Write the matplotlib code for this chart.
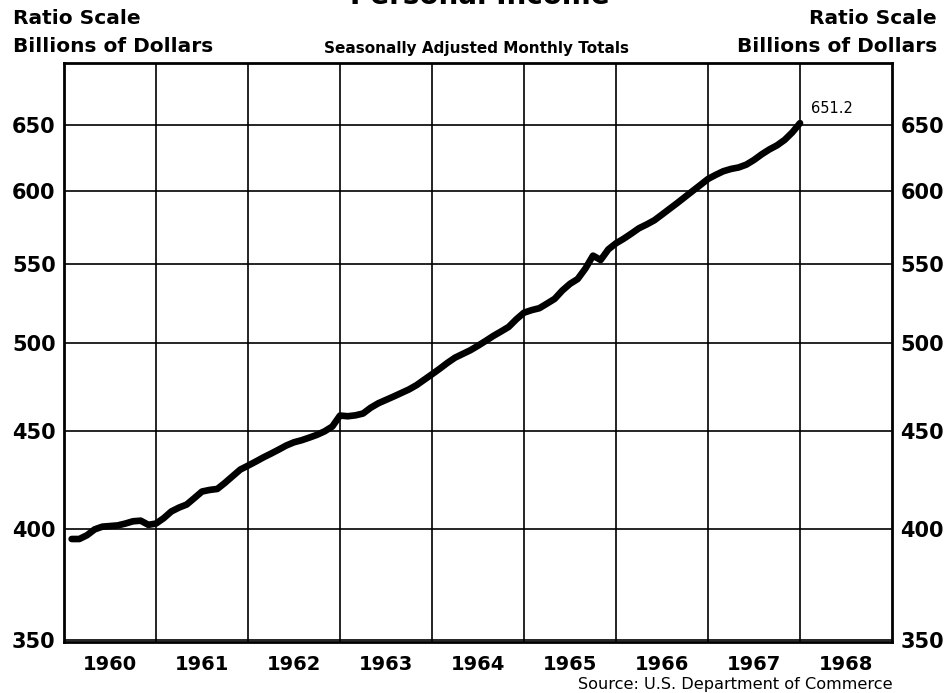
import numpy as np
import matplotlib
matplotlib.use("Agg")
import matplotlib.pyplot as plt
from matplotlib.ticker import FixedLocator, NullFormatter, FixedFormatter

# monthly personal income, Jan 1960 - Dec 1967 (billions, seasonally adjusted annual rate)
income = [
    395.0, 395.0, 396.8, 399.6, 400.9, 401.2, 401.5, 402.4, 403.5, 403.8, 401.8, 402.4,   # 1960
    405.0, 408.3, 410.2, 411.7, 414.9, 418.2, 419.0, 419.5, 422.6, 426.0, 429.4, 431.4,   # 1961
    433.5, 435.7, 437.7, 439.8, 442.0, 443.7, 444.8, 446.2, 447.7, 449.6, 452.2, 458.2,   # 1962
    457.8, 458.3, 459.3, 462.5, 465.0, 466.9, 468.8, 470.8, 472.8, 475.3, 478.4, 481.5,   # 1963
    484.7, 488.1, 491.2, 493.4, 495.6, 498.3, 501.2, 504.2, 506.9, 509.7, 514.4, 518.5,   # 1964
    520.1, 521.3, 524.2, 527.2, 532.5, 536.8, 539.9, 546.7, 555.3, 552.4, 559.5, 563.6,   # 1965
    566.7, 570.2, 573.9, 576.5, 579.4, 583.4, 587.5, 591.6, 595.9, 600.2, 604.5, 608.9,   # 1966
    611.9, 614.6, 616.3, 617.4, 619.5, 623.0, 627.2, 630.9, 634.0, 638.2, 644.0, 651.2,   # 1967
]
start_year = 1960
years = list(range(1960, 1969))
y_ticks = [350, 400, 450, 500, 550, 600, 650]
last_label = "651.2"

# each month plotted at the end of its month
t = start_year + (np.arange(len(income)) + 1) / 12.0

plt.rcParams['font.family'] = ['DejaVu Sans']

fig = plt.figure(figsize=(9.51, 6.93), dpi=100)
ax = fig.add_axes([64/951, 1 - 642/693, (892-64)/951, (642-63)/693])

ax.plot(t, income, color='black', linewidth=4.8, solid_capstyle='round',
        solid_joinstyle='round', zorder=3)

ax.set_yscale('log')
ax.set_ylim(349, 700)
ax.set_xlim(years[0], years[-1] + 1)

# gridlines at year boundaries, labels centred in each year
ax.xaxis.set_major_locator(FixedLocator(years[1:]))
ax.xaxis.set_major_formatter(NullFormatter())
ax.xaxis.set_minor_locator(FixedLocator([y + 0.5 for y in years]))
ax.xaxis.set_minor_formatter(FixedFormatter([str(y) for y in years]))
ax.tick_params(axis='x', which='both', length=0, pad=9, labelsize=14)
for lab in ax.get_xticklabels(minor=True):
    lab.set_fontweight('bold')

ax.yaxis.set_major_locator(FixedLocator(y_ticks))
ax.yaxis.set_major_formatter(FixedFormatter([str(v) for v in y_ticks]))
ax.yaxis.set_minor_locator(FixedLocator([]))
ax.yaxis.set_minor_formatter(NullFormatter())
ax.tick_params(axis='y', which='both', length=0, labelsize=15,
               left=True, right=True, labelleft=True, labelright=True, pad=6)
for lab in ax.get_yticklabels():
    lab.set_fontweight('bold')

ax.grid(True, which='major', color='black', linewidth=1.2)
for s in ax.spines.values():
    s.set_linewidth(2)

ax.annotate(last_label, (t[-1], income[-1]), xytext=(8, 5), textcoords='offset points',
            fontsize=10.5, ha='left', va='bottom')

fig.text(480/951, 1 - 4/693, "Personal Income", ha='center', va='baseline',
         fontsize=20, fontweight='bold')
fig.text(13/951, 1 - 18/693, "Ratio Scale", ha='left', va='center', fontsize=14.5, fontweight='bold')
fig.text(13/951, 1 - 47/693, "Billions of Dollars", ha='left', va='center', fontsize=14.5, fontweight='bold')
fig.text(937/951, 1 - 18/693, "Ratio Scale", ha='right', va='center', fontsize=14.5, fontweight='bold')
fig.text(937/951, 1 - 47/693, "Billions of Dollars", ha='right', va='center', fontsize=14.5, fontweight='bold')
fig.text(476/951, 1 - 49/693, "Seasonally Adjusted Monthly Totals", ha='center', va='center',
         fontsize=11, fontweight='bold')
fig.text(893/951, 1 - 685/693, "Source: U.S. Department of Commerce", ha='right', va='center',
         fontsize=11.6)

fig.savefig("out.png", dpi=100)
